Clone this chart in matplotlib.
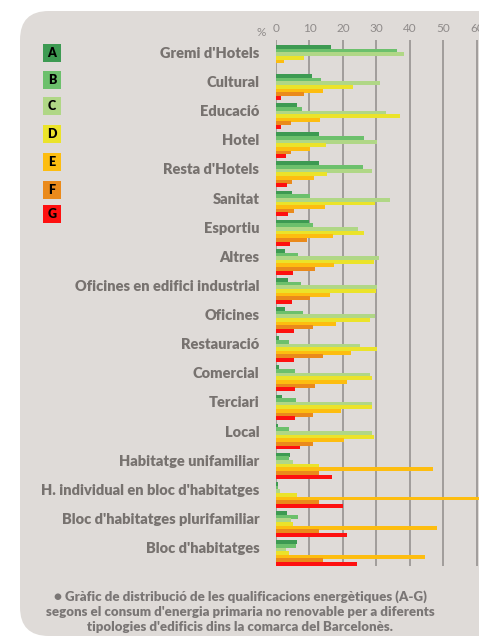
import numpy as np
import matplotlib
matplotlib.use("Agg")
from matplotlib import pyplot as plt
from matplotlib.patches import FancyBboxPatch, Rectangle

categories = ["Gremi d'Hotels", "Cultural", "Educació", "Hotel", "Resta d'Hotels",
              "Sanitat", "Esportiu", "Altres", "Oficines en edifici industrial",
              "Oficines", "Restauració", "Comercial", "Terciari", "Local",
              "Habitatge unifamiliar", "H. individual en bloc d'habitatges",
              "Bloc d'habitatges plurifamiliar", "Bloc d'habitatges"]

grades = ["A", "B", "C", "D", "E", "F", "G"]
colors = ["#3d9a52", "#6cc06c", "#b0d786", "#ebe32a", "#fdbd10", "#ea8a1b", "#fe1010"]

# percentage per grade, in category order
pct_A = [16.5, 10.8, 6.3, 12.9, 12.9, 4.8, 9.9, 2.7, 3.6, 2.7, 0.9, 0.9, 1.8, 0.6, 4.2, 0.6, 3.3, 6.3]
pct_B = [36.0, 13.4, 7.8, 26.3, 26.0, 10.2, 11.0, 6.6, 7.5, 8.1, 3.9, 5.7, 6.0, 3.9, 3.9, 0.6, 6.6, 6.0]
pct_C = [38.2, 31.0, 32.8, 30.2, 28.7, 34.0, 24.5, 30.7, 30.2, 29.6, 25.1, 28.1, 28.7, 28.7, 5.1, 1.2, 4.5, 3.0]
pct_D = [8.3, 23.0, 37.0, 15.0, 15.2, 29.6, 26.3, 29.3, 29.9, 28.1, 30.2, 28.7, 28.7, 29.3, 12.9, 6.3, 5.1, 3.9]
pct_E = [2.4, 14.0, 13.1, 10.2, 11.3, 14.6, 17.0, 17.3, 16.1, 17.9, 22.4, 21.2, 19.4, 20.3, 46.9, 62.0, 48.1, 44.5]
pct_F = [0.0, 8.4, 4.5, 4.5, 4.8, 5.4, 9.3, 11.6, 10.2, 11.0, 14.0, 11.6, 11.0, 11.0, 12.9, 12.9, 12.9, 14.0]
pct_G = [0.0, 1.5, 1.5, 3.0, 3.3, 3.6, 4.2, 5.1, 4.8, 5.4, 5.4, 5.7, 5.7, 7.2, 16.7, 20.0, 21.2, 24.2]
series = [pct_A, pct_B, pct_C, pct_D, pct_E, pct_F, pct_G]

caption = ("\u25CF Gràfic de distribució de les qualificacions energètiques (A-G)\n"
           "segons el consum d'energia primaria no renovable per a diferents\n"
           "tipologies d'edificis dins la comarca del Barcelonès.")

FONT = ["Lato", "DejaVu Sans"]
W, H = 479, 644
fig = plt.figure(figsize=(W / 100, H / 100), dpi=100)
fig.patch.set_facecolor("white")

panel = FancyBboxPatch((20 / W, 8 / H), 500 / W, (633 - 8) / H,
                       boxstyle="round,pad=0,rounding_size=0.06",
                       transform=fig.transFigure, facecolor="#dfdbd8",
                       edgecolor="none", mutation_aspect=W / H, zorder=-5)
fig.patches.append(panel)

n = len(categories)
ax_top, ax_bot = 40, 566
ax = fig.add_axes([276 / W, 1 - ax_bot / H, (W - 276) / W, (ax_bot - ax_top) / H])
ax.set_facecolor("none")
ax.set_zorder(2)

step = 0.125
hgt = 0.135
y = np.arange(n)
for j, vals in enumerate(series):
    ax.barh(y + (j - 3) * step, vals, height=hgt, color=colors[j], zorder=3)

top_lim = -3 * step - hgt / 2 - 0.17
bot_lim = (n - 1) + 3 * step + hgt / 2
ax.set_ylim(bot_lim, top_lim)
ax.set_xlim(0, 60.6)

ax.set_yticks(y - 1.5 * step)
ax.set_yticklabels(categories, fontsize=10.5, fontweight="heavy", color="#77726f",
                   family=FONT)
ax.tick_params(axis="y", length=0, pad=12)
ax.xaxis.tick_top()
ax.set_xticks([0, 10, 20, 30, 40, 50, 60])
ax.tick_params(axis="x", length=0, pad=4, labelsize=8.5, labelcolor="#8f8b8a")
for lab in ax.get_xticklabels():
    lab.set_family(FONT)
ax.grid(axis="x", color="#a19d9b", linewidth=1.4, zorder=1)
for s in ax.spines.values():
    s.set_visible(False)
fig.text(261 / W, 1 - 33 / H, "%", fontsize=8.5, color="#8f8b8a", ha="center",
         va="center", family=FONT)

# legend squares
leg_y = [44, 71, 97, 125, 153, 181, 205]
for g, c, ly in zip(grades, colors, leg_y):
    fig.patches.append(Rectangle((43 / W, 1 - (ly + 18) / H), 18 / W, 18 / H,
                                 transform=fig.transFigure, facecolor=c,
                                 edgecolor="none", zorder=2))
    fig.text(52 / W, 1 - (ly + 9) / H, g, ha="center", va="center", fontsize=9,
             fontweight="heavy", color="black", family=FONT)

fig.text(240 / W, 1 - 612 / H, caption, ha="center", va="center", fontsize=9.5,
         fontweight="heavy", color="#7a7675", linespacing=1.3, family=FONT)

fig.savefig("out.png", dpi=100)
